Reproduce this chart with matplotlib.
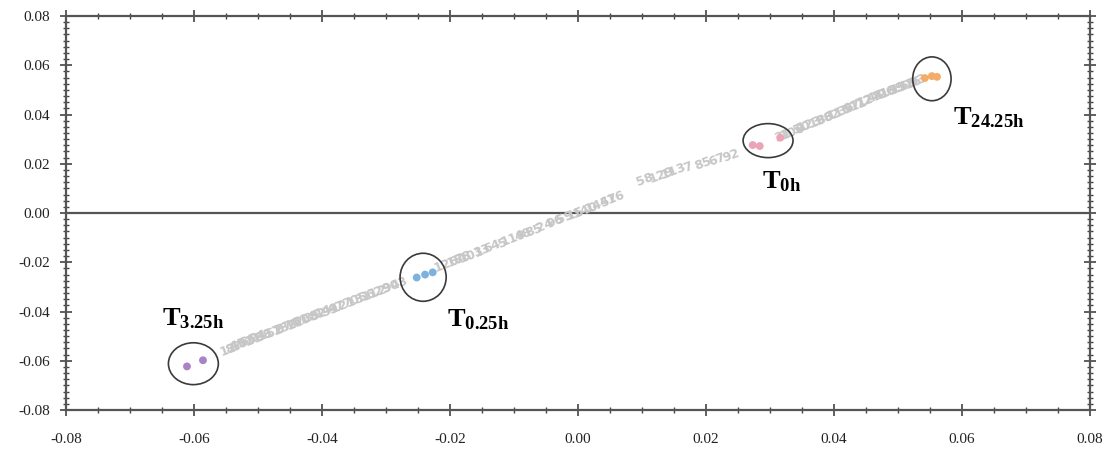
import numpy as np
import matplotlib.pyplot as plt
from matplotlib.patches import Ellipse
from matplotlib.ticker import MultipleLocator

plt.rcParams['font.family'] = ['Liberation Serif', 'DejaVu Serif']
plt.rcParams['mathtext.fontset'] = 'custom'
plt.rcParams['mathtext.rm'] = 'Liberation Serif'
plt.rcParams['mathtext.bf'] = 'Liberation Serif:bold'

# sample labels (grey text cloud along the diagonal)
lab_txt = ['12', '87', '45', '103', '66', '21', '94', '38', '117', '52', '9', '130', '74', '27',
           '61', '108', '35', '82', '14', '99', '47', '121', '70', '3', '56', '112', '29', '90', '43',
           '126', '18', '78', '101', '33', '64', '5', '119', '48', '85', '24', '96', '59', '15', '140', '145', '41', '76',
           '58', '129', '113', '7', '85', '67', '92',
           '31', '106', '50', '123', '19', '88', '62', '115', '36', '97', '11', '72', '127', '44', '81', '26', '109', '55',
           '133', '68', '16', '93']
lab_x = [-0.0546, -0.0538, -0.0531, -0.0523, -0.0515, -0.0507, -0.0499, -0.0490, -0.0482, -0.0474,
         -0.0466, -0.0457, -0.0449, -0.0441, -0.0432, -0.0424, -0.0415, -0.0406, -0.0397, -0.0388,
         -0.0378, -0.0367, -0.0355, -0.0342, -0.0330, -0.0318, -0.0305, -0.0292, -0.0280,
         -0.0205, -0.0192, -0.0180, -0.0166, -0.0150, -0.0134, -0.0118, -0.0100, -0.0085, -0.0068,
         -0.0052, -0.0036, -0.0020, -0.0004, 0.0012, 0.0030, 0.0048, 0.0060,
         0.0105, 0.0130, 0.0150, 0.0172, 0.0195, 0.0218, 0.0240,
         0.0320, 0.0335, 0.0350, 0.0362, 0.0374, 0.0386, 0.0397, 0.0408, 0.0418, 0.0428, 0.0438,
         0.0447, 0.0456, 0.0465, 0.0474, 0.0483, 0.0492, 0.0500, 0.0508, 0.0516, 0.0524, 0.0532]
lab_y = [-0.0553, -0.0547, -0.0535, -0.0530, -0.0519, -0.0515, -0.0503, -0.0498, -0.0486, -0.0481,
         -0.0470, -0.0464, -0.0452, -0.0448, -0.0436, -0.0431, -0.0419, -0.0413, -0.0401, -0.0395,
         -0.0383, -0.0372, -0.0360, -0.0349, -0.0335, -0.0324, -0.0311, -0.0298, -0.0285,
         -0.0208, -0.0195, -0.0181, -0.0170, -0.0152, -0.0138, -0.0121, -0.0102, -0.0088, -0.0070,
         -0.0052, -0.0036, -0.0019, -0.0003, 0.0014, 0.0032, 0.0050, 0.0062,
         0.0135, 0.0155, 0.0170, 0.0185, 0.0200, 0.0215, 0.0235,
         0.0315, 0.0330, 0.0345, 0.0360, 0.0372, 0.0385, 0.0397, 0.0410, 0.0420, 0.0431, 0.0442,
         0.0452, 0.0461, 0.0471, 0.0480, 0.0489, 0.0498, 0.0507, 0.0515, 0.0523, 0.0530, 0.0537]

# time-point groups
t325_x = [-0.0611, -0.0586]
t325_y = [-0.0623, -0.0598]
t025_x = [-0.0252, -0.0239, -0.0227]
t025_y = [-0.0262, -0.0250, -0.0241]
t0_x = [0.0273, 0.0284, 0.0316]
t0_y = [0.0276, 0.0272, 0.0306]
t2425_x = [0.0542, 0.0553, 0.0561]
t2425_y = [0.0548, 0.0556, 0.0553]

groups = [
    (t325_x, t325_y, '#a983c6', (-0.0601, -0.0612), 0.0078, 0.0170, (-0.0650, -0.0430), '3.25h'),
    (t025_x, t025_y, '#7eb2de', (-0.0242, -0.0261), 0.0072, 0.0195, (-0.0205, -0.0432), '0.25h'),
    (t0_x, t0_y, '#eba3b6', (0.0297, 0.0294), 0.0078, 0.0138, (0.0288, 0.0128), '0h'),
    (t2425_x, t2425_y, '#f4ad68', (0.0553, 0.0545), 0.0060, 0.0178, (0.0586, 0.0388), '24.25h'),
]

fig = plt.figure(figsize=(11.06, 4.5), dpi=100)
ax = fig.add_axes([0.0597, 0.0889, 0.9258, 0.8755])

for t, x, y in zip(lab_txt, lab_x, lab_y):
    ax.text(x, y, t, fontsize=9, color='#c6c6c6', rotation=21, fontweight='bold',
            ha='center', va='center', family='Liberation Sans Narrow')

for gx, gy, col, c, w, h, tpos, sub in groups:
    ax.scatter(gx, gy, s=32, color=col, edgecolors='none', zorder=3)
    ax.add_patch(Ellipse(c, w, h, fill=False, edgecolor='#3a3a3a', lw=1.2, zorder=4))
    ax.text(tpos[0], tpos[1], r'$\mathbf{T_{' + sub + '}}$', fontsize=19,
            ha='left', va='center', color='black')

ax.axhline(0, color='#555555', lw=1.6, zorder=2)

ax.set_xlim(-0.08, 0.08)
ax.set_ylim(-0.08, 0.08)
ax.xaxis.set_major_locator(MultipleLocator(0.02))
ax.xaxis.set_minor_locator(MultipleLocator(0.005))
ax.yaxis.set_major_locator(MultipleLocator(0.02))
ax.yaxis.set_minor_locator(MultipleLocator(0.0025))
ax.xaxis.set_major_formatter(lambda v, p: f'{v:.2f}')
ax.yaxis.set_major_formatter(lambda v, p: f'{v:.2f}')

ax.tick_params(which='both', direction='inout', top=True, right=True, color='#444444',
               labelsize=11, labelcolor='#222222')
ax.tick_params(which='major', length=9, width=1.2)
ax.tick_params(which='minor', length=5, width=1.0)
ax.tick_params(axis='x', pad=12)
ax.tick_params(axis='y', pad=7)
for s in ax.spines.values():
    s.set_color('#555555')
    s.set_linewidth(1.6)

plt.savefig('out.png', dpi=100)
